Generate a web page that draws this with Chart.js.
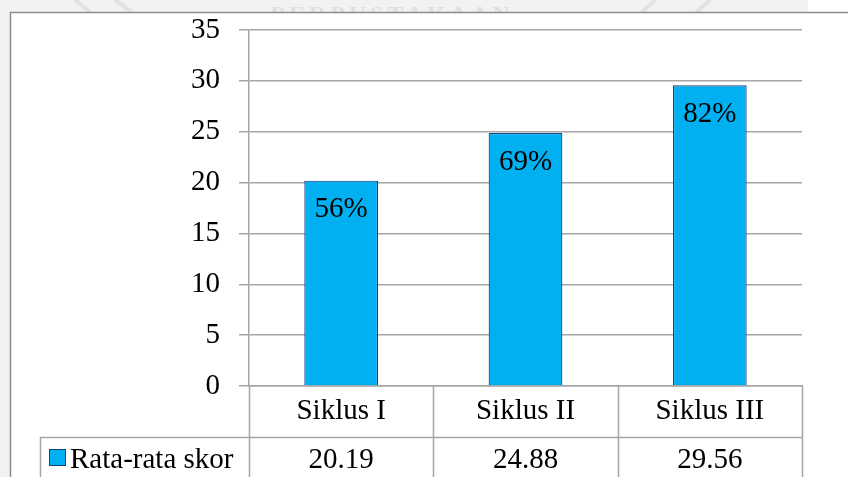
<!DOCTYPE html>
<html>
<head>
<meta charset="utf-8">
<script src="https://cdn.jsdelivr.net/npm/chart.js@4.4.0/dist/chart.umd.min.js"></script>
<style>
  html, body { margin: 0; padding: 0; background: #ffffff; }
  #wrap { width: 848px; height: 477px; position: relative; overflow: hidden; }
  canvas { display: block; }
</style>
</head>
<body>
<div id="wrap"><canvas id="chart" width="848" height="477"></canvas></div>
<script>
// Average score per cycle
const categories = ['Siklus I', 'Siklus II', 'Siklus III'];
const scores = [20.19, 24.88, 29.56];
const percentLabels = ['56%', '69%', '82%'];
const seriesName = 'Rata-rata skor';
const yTicks = [0, 5, 10, 15, 20, 25, 30, 35];

const FONT = '"Liberation Serif", "Times New Roman", serif';
const FONT_SIZE = 29;
const BAR_FILL = '#00b0f0';
const BAR_EDGE = '#1c3f7a';
const LINE = '#a6a6a6';

// Page frame, grey margin and faint watermark behind the chart
const framePlugin = {
  id: 'frame',
  beforeDraw(chart) {
    const ctx = chart.ctx;
    const W = chart.width, H = chart.height;
    ctx.save();
    ctx.fillStyle = '#ffffff';
    ctx.fillRect(0, 0, W, H);
    ctx.fillStyle = '#f2f2f2';
    ctx.fillRect(0, 0, 808, 12);
    ctx.fillRect(0, 0, 10, H);

    // watermark strip, clipped to the grey band
    ctx.save();
    ctx.beginPath();
    ctx.rect(10, 0, 798, 12);
    ctx.clip();
    ctx.fillStyle = '#e0e0e0';
    ctx.font = 'bold 24px ' + FONT;
    ctx.textAlign = 'center';
    ctx.textBaseline = 'alphabetic';
    if ('letterSpacing' in ctx) ctx.letterSpacing = '4px';
    ctx.fillText('PERPUSTAKAAN', 392, 22);
    ctx.strokeStyle = '#e2e2e2';
    ctx.lineWidth = 4;
    [[75, 90], [115, 132], [655, 642], [710, 696]].forEach(([x0, x1]) => {
      ctx.beginPath();
      ctx.moveTo(x0, 0);
      ctx.lineTo(x1, 12);
      ctx.stroke();
    });
    ctx.restore();

    ctx.strokeStyle = '#8c8c8c';
    ctx.lineWidth = 1.5;
    ctx.beginPath();
    ctx.moveTo(10.5, H);
    ctx.lineTo(10.5, 12.5);
    ctx.lineTo(W, 12.5);
    ctx.stroke();
    ctx.restore();
  }
};

// Data table under the plot plus value labels inside the bars
const tablePlugin = {
  id: 'dataTable',
  afterDraw(chart) {
    const ctx = chart.ctx;
    const area = chart.chartArea;
    const xs = chart.scales.x;
    const n = categories.length;
    const rowH = 51;
    const top = area.bottom;
    const mid = top + rowH;
    const bottom = top + 2 * rowH;
    const legendLeft = 40;

    const edges = [area.left];
    for (let i = 0; i < n - 1; i++) {
      edges.push((xs.getPixelForValue(i) + xs.getPixelForValue(i + 1)) / 2);
    }
    edges.push(area.right);

    ctx.save();
    ctx.strokeStyle = LINE;
    ctx.lineWidth = 1.5;
    ctx.beginPath();
    edges.forEach(x => {
      const px = Math.round(x) + 0.5;
      ctx.moveTo(px, top);
      ctx.lineTo(px, bottom);
    });
    ctx.moveTo(legendLeft + 0.5, mid);
    ctx.lineTo(legendLeft + 0.5, bottom);
    ctx.moveTo(legendLeft, mid + 0.5);
    ctx.lineTo(area.right, mid + 0.5);
    ctx.moveTo(legendLeft, bottom + 0.5);
    ctx.lineTo(area.right, bottom + 0.5);
    ctx.stroke();

    // legend key and series name
    ctx.fillStyle = BAR_FILL;
    ctx.fillRect(49.5, 449.5, 16, 16);
    ctx.strokeStyle = BAR_EDGE;
    ctx.lineWidth = 1;
    ctx.strokeRect(49.5, 449.5, 16, 16);

    ctx.fillStyle = '#000000';
    ctx.font = FONT_SIZE + 'px ' + FONT;
    ctx.textBaseline = 'middle';
    ctx.textAlign = 'left';
    ctx.fillText(seriesName, 70, mid + 23);

    // value row
    ctx.textAlign = 'center';
    scores.forEach((v, i) => {
      ctx.fillText(v.toFixed(2), xs.getPixelForValue(i), mid + 23);
    });

    // percentage labels near the top of each bar
    const meta = chart.getDatasetMeta(0);
    meta.data.forEach((bar, i) => {
      ctx.fillText(percentLabels[i], bar.x, bar.y + 29);
    });
    ctx.restore();
  }
};

new Chart(document.getElementById('chart'), {
  type: 'bar',
  data: {
    labels: categories,
    datasets: [{
      label: seriesName,
      data: scores,
      backgroundColor: BAR_FILL,
      borderColor: BAR_EDGE,
      borderWidth: 1.2,
      categoryPercentage: 1,
      barPercentage: 0.4
    }]
  },
  options: {
    responsive: false,
    animation: false,
    devicePixelRatio: 1,
    layout: { padding: { top: 30, right: 46, left: 0, bottom: 0 } },
    plugins: {
      legend: { display: false },
      tooltip: { enabled: false },
      title: { display: false }
    },
    scales: {
      x: {
        grid: { display: false, drawTicks: false },
        border: { display: true, color: LINE, width: 1.5 },
        ticks: {
          color: '#000000',
          font: { family: FONT, size: FONT_SIZE },
          padding: 8,
          maxRotation: 0,
          autoSkip: false
        },
        afterFit(scale) { scale.height = 91; }
      },
      y: {
        min: 0,
        max: 35,
        afterBuildTicks(scale) {
          scale.ticks = yTicks.map(v => ({ value: v }));
        },
        grid: { color: LINE, lineWidth: 1.5, tickLength: 10, drawTicks: true },
        border: { display: true, color: LINE, width: 1.5 },
        ticks: {
          color: '#000000',
          font: { family: FONT, size: FONT_SIZE },
          padding: 19
        },
        afterFit(scale) {
          scale.width = 249;
          scale.paddingTop = 0;
          scale.paddingBottom = 0;
        }
      }
    }
  },
  plugins: [framePlugin, tablePlugin]
});
</script>
</body>
</html>
